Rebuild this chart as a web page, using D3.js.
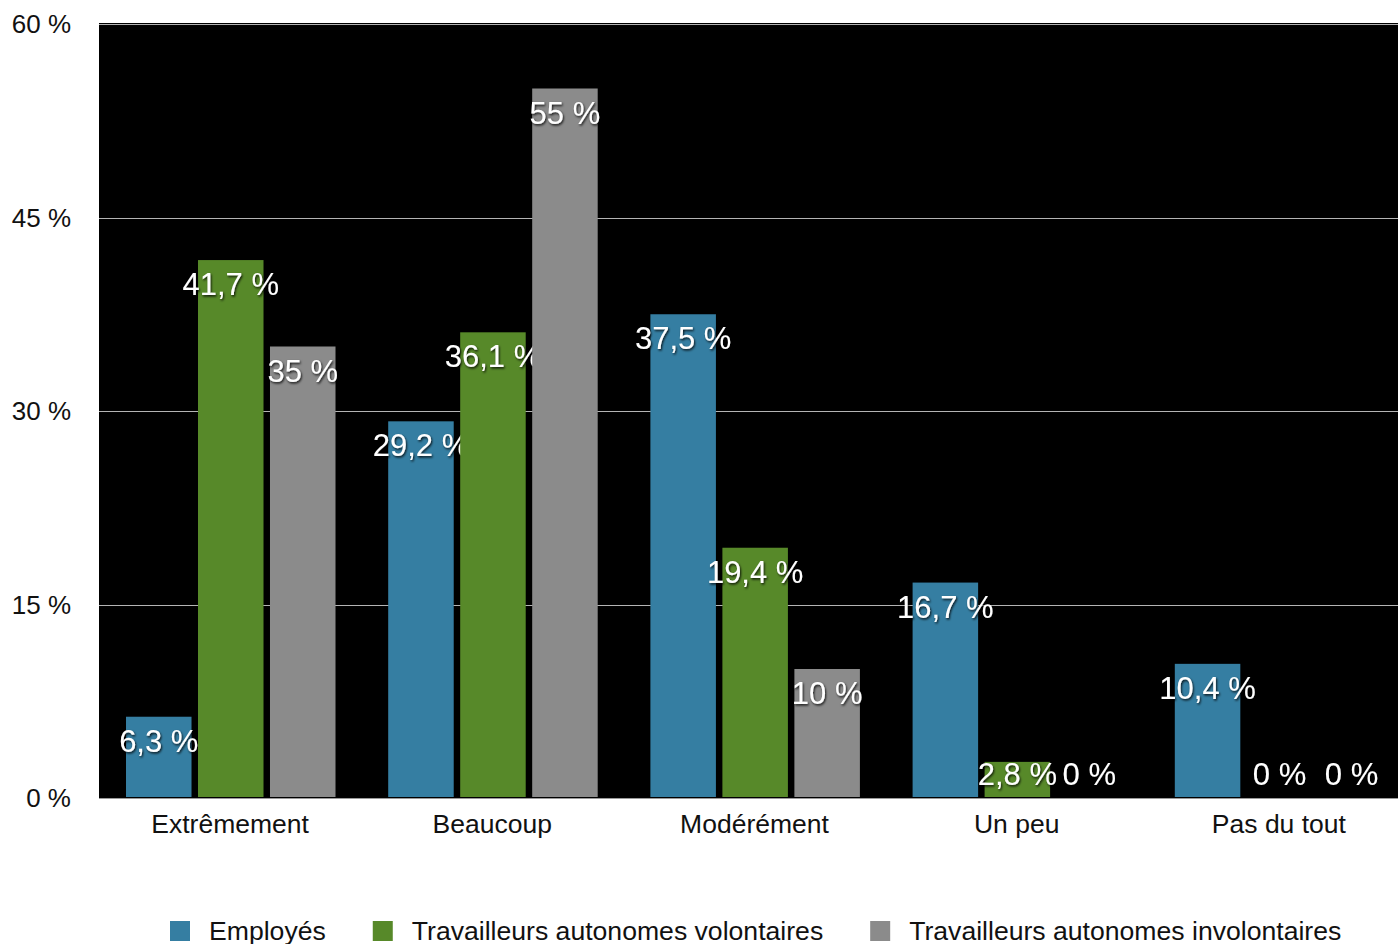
<!DOCTYPE html>
<html>
<head>
<meta charset="utf-8">
<script src="https://cdn.jsdelivr.net/npm/d3@7"></script>
<style>
  body { margin: 0; background: #fff; }
  text { font-family: "Liberation Sans", Arial, Helvetica, sans-serif; }
</style>
</head>
<body>
<script>
var width = 1398
var height = 944

// data
var categories = ["Extrêmement", "Beaucoup", "Modérément", "Un peu", "Pas du tout"]
var series = ["Employés", "Travailleurs autonomes volontaires", "Travailleurs autonomes involontaires"]
var employes = [6.3, 29.2, 37.5, 16.7, 10.4]
var volontaires = [41.7, 36.1, 19.4, 2.8, 0]
var involontaires = [35, 55, 10, 0, 0]
var yTicks = [0, 15, 30, 45, 60]
var colors = ["#357ea2", "#578929", "#8b8b8b"]

var values = [employes, volontaires, involontaires]

var svg = d3.select("body")
    .append("svg")
    .attr("width", width)
    .attr("height", height);

var defs = svg.append("defs")
var shadow = defs.append("filter").attr("id", "shadow")
    .attr("x", "-20%").attr("y", "-30%").attr("width", "140%").attr("height", "160%")
shadow.append("feDropShadow")
    .attr("dx", 1).attr("dy", 1.5).attr("stdDeviation", 1)
    .attr("flood-color", "#000").attr("flood-opacity", 0.85)

var plotLeft = 99, plotRight = 1398, plotTop = 23, plotBottom = 798

var x_scale = d3.scaleBand()
    .domain(categories)
    .range([plotLeft, 1410])

var x_inner = d3.scaleBand()
    .domain(series)
    .range([27, 236.5])
    .paddingInner(0.09)

var y_scale = d3.scaleLinear()
    .domain([0, 60])
    .range([plotBottom, 24])

// plot background
svg.append("rect")
    .attr("x", plotLeft).attr("y", plotTop)
    .attr("width", plotRight - plotLeft).attr("height", plotBottom - plotTop)
    .attr("fill", "#000")

// gridlines
svg.selectAll("line.grid")
    .data(yTicks.filter(d => d > 0))
    .enter()
    .append("line")
    .attr("class", "grid")
    .attr("x1", plotLeft).attr("x2", plotRight)
    .attr("y1", d => Math.round(y_scale(d)) + 0.5)
    .attr("y2", d => Math.round(y_scale(d)) + 0.5)
    .attr("stroke", "#b4b4b4")
    .attr("stroke-width", 1)

// baseline
svg.append("line")
    .attr("x1", plotLeft).attr("x2", plotRight)
    .attr("y1", plotBottom + 0.5).attr("y2", plotBottom + 0.5)
    .attr("stroke", "#9a9a9a")

// y tick labels
svg.selectAll("text.ytick")
    .data(yTicks)
    .enter()
    .append("text")
    .attr("class", "ytick")
    .attr("x", 71)
    .attr("y", d => y_scale(d) + 9)
    .attr("text-anchor", "end")
    .attr("font-size", 26)
    .attr("fill", "#111")
    .text(d => d + " %")

// bars
var rows = []
categories.forEach((c, i) => {
    series.forEach((s, j) => {
        rows.push({cat: c, serie: s, idx: j, value: values[j][i]})
    })
})

var groups = svg.selectAll("g.bar")
    .data(rows)
    .enter()
    .append("g")
    .attr("class", "bar")
    .attr("transform", d => "translate(" + (x_scale(d.cat) + x_inner(d.serie)) + ",0)")

groups.append("rect")
    .attr("x", 0)
    .attr("y", d => y_scale(d.value))
    .attr("width", x_inner.bandwidth())
    .attr("height", d => Math.max(0, y_scale(0) - y_scale(d.value) - 1))
    .attr("fill", d => colors[d.idx])

groups.append("text")
    .attr("x", x_inner.bandwidth() / 2)
    .attr("y", d => Math.min(y_scale(d.value) + 35, 785))
    .attr("text-anchor", "middle")
    .attr("font-size", 31)
    .attr("fill", "#fff")
    .attr("filter", "url(#shadow)")
    .text(d => String(d.value).replace(".", ",") + " %")

// category labels
svg.selectAll("text.cat")
    .data(categories)
    .enter()
    .append("text")
    .attr("class", "cat")
    .attr("x", d => x_scale(d) + x_scale.bandwidth() / 2)
    .attr("y", 833)
    .attr("text-anchor", "middle")
    .attr("font-size", 26.5)
    .attr("fill", "#111")
    .text(d => d)

// legend
var lx = 170
series.forEach((s, i) => {
    svg.append("rect")
        .attr("x", lx).attr("y", 921)
        .attr("width", 20).attr("height", 20)
        .attr("fill", colors[i])
    var t = svg.append("text")
        .attr("x", lx + 39)
        .attr("y", 940)
        .attr("font-size", 26.6)
        .attr("fill", "#111")
        .text(s)
    lx = lx + 39 + t.node().getComputedTextLength() + 47
})
</script>
</body>
</html>
